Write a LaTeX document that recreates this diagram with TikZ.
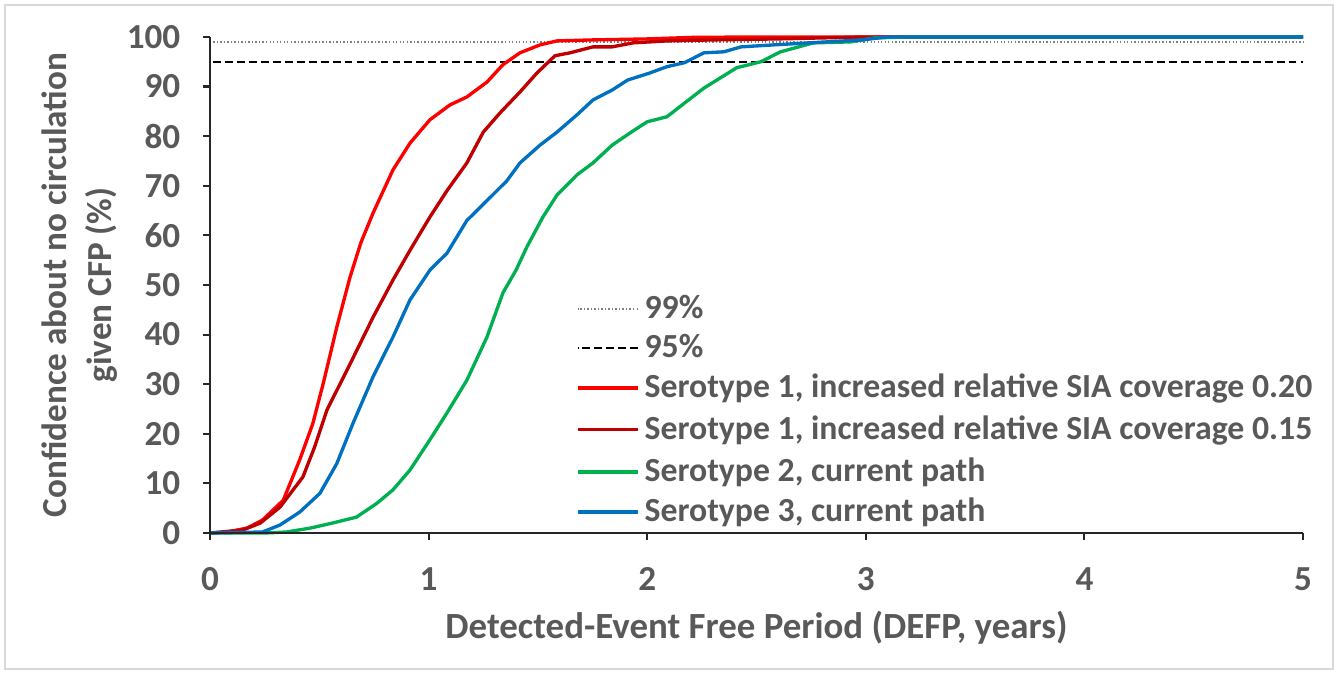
\documentclass[tikz,border=0pt]{standalone}
\usepackage{fontspec}
\setmainfont{Carlito}
\usepackage{xcolor}
\usetikzlibrary{calc, positioning}

\definecolor{txtgray}{HTML}{595959}
\definecolor{framegray}{HTML}{D9D9D9}
\definecolor{serored}{HTML}{FF0000}
\definecolor{serodark}{HTML}{C00000}
\definecolor{serogreen}{HTML}{00B050}
\definecolor{seroblue}{HTML}{0070C0}

\tikzset{
    axisline/.style={line width=0.6pt, black!85},
    refdot/.style={line width=0.5pt, gray, dash pattern=on 0.4pt off 0.6pt},
    refdash/.style={line width=0.6pt, black, dash pattern=on 2.2pt off 1.2pt},
    curve/.style={line width=0.95pt, line join=round},
    lbl/.style={font=\fontsize{10}{12.8}\selectfont\bfseries, text=txtgray, inner sep=0pt},
    legtext/.style={lbl, font=\fontsize{9.6}{12}\selectfont\bfseries, anchor=west, text height=1.6ex, text depth=0.45ex}
}

\begin{document}
\begin{tikzpicture}[x=2.186cm, y=0.0496cm]
    \useasboundingbox (-2.10cm,-1.40cm) rectangle (11.32cm,5.33cm);
    % 0. Khung ngoài
    \draw[framegray, line width=0.5pt] (-2.05cm,-1.36cm) rectangle (11.23cm,5.28cm);

    % 1. Đường tham chiếu 99% và 95%
    \draw[refdot] (0.015,99) -- (5,99);
    \draw[refdash] (0.015,95) -- (5,95);

    % 2. Các đường cong
    \draw[curve, serored] plot coordinates {(0,0) (0.08,0.2) (0.17,1) (0.24,2.6) (0.335,6.6)
        (0.41,14.7) (0.47,22) (0.52,30.5) (0.58,41.5) (0.64,51.5) (0.69,58.5) (0.746,64.5) (0.837,73.2)
        (0.915,78.6) (1.006,83.3) (1.098,86.3) (1.175,87.9) (1.267,90.9) (1.34,94.4)
        (1.418,96.8) (1.51,98.4) (1.587,99.2) (1.75,99.4) (2.0,99.6) (2.2,99.9) (2.5,100) (5,100)};
    \draw[curve, serodark] plot coordinates {(0,0) (0.15,0.6) (0.23,2) (0.32,5.2) (0.425,11.3)
        (0.48,17.5) (0.535,24.8) (0.64,34) (0.746,43.5) (0.837,51) (0.915,57) (1.006,63.7) (1.084,69)
        (1.175,74.6) (1.25,80.8) (1.327,84.7) (1.418,88.9) (1.495,92.7) (1.578,96.2)
        (1.647,96.8) (1.752,98) (1.84,98) (1.935,98.8) (2.09,99.2) (2.3,99.4) (2.6,99.6) (3.0,100) (5,100)};
    \draw[curve, serogreen] plot coordinates {(0,0) (0.25,0) (0.35,0.2) (0.46,1) (0.56,2)
        (0.67,3.2) (0.764,6) (0.837,8.7) (0.915,12.7) (1.006,18.8) (1.084,24.2) (1.175,30.8)
        (1.267,39.5) (1.34,48.4) (1.40,53) (1.45,57.7) (1.523,63.7) (1.587,68.1) (1.679,72.2)
        (1.752,74.6) (1.84,78.2) (1.92,80.6) (2.0,82.9) (2.09,83.9) (2.16,86.3) (2.26,89.7)
        (2.41,93.8) (2.52,95) (2.61,97) (2.76,98.8) (2.93,99) (3.04,99.8) (3.2,100) (5,100)};
    \draw[curve, seroblue] plot coordinates {(0,0) (0.24,0.2) (0.32,1.6) (0.41,4.2) (0.503,8)
        (0.58,14) (0.655,22.2) (0.746,31.5) (0.837,39.5) (0.915,47) (1.006,53) (1.084,56.4)
        (1.175,63) (1.267,67) (1.358,71) (1.418,74.6) (1.51,78.2) (1.587,80.8) (1.679,84.3)
        (1.752,87.3) (1.84,89.3) (1.91,91.3) (2.01,92.7) (2.09,94) (2.17,94.8) (2.26,96.8)
        (2.35,97) (2.43,98) (2.58,98.4) (2.82,99) (2.98,99.4) (3.1,100) (5,100)};

    % 3. Hệ trục và vạch chia
    \draw[axisline] (0,100) -- (0,0) -- (5,0);
    \foreach \v in {0,10,...,100} {
        \draw[axisline] (0,\v) -- ++(-0.75mm,0);
        \node[lbl, anchor=east] (ytick\v) at ([xshift=-2.9mm]0,\v) {\v};
    }
    \foreach \v in {0,...,5} {
        \draw[axisline] (\v,0) -- ++(0,-0.75mm);
        \node[lbl] (xtick\v) at ([yshift=-4.6mm]\v,0) {\v};
    }

    % 4. Tên trục
    \node[lbl, font=\fontsize{10.5}{12.8}\selectfont\bfseries] (xtitle) at ([yshift=-9.5mm]2.5,0) {Detected-Event Free Period (DEFP, years)};
    \node[lbl, align=center, rotate=90] (ytitle) at ([xshift=-13mm]0,50) {Confidence about no circulation\\given CFP (\%)};

    % 5. Chú thích
    \node[legtext] (leg99) at (1.985,45.2) {99\%};
    \node[legtext] (leg95) at (1.985,37.3) {95\%};
    \node[legtext] (legA) at (1.985,29.2) {Serotype 1, increased relative SIA coverage 0.20};
    \node[legtext] (legB) at (1.985,20.8) {Serotype 1, increased relative SIA coverage 0.15};
    \node[legtext] (legC) at (1.985,12.3) {Serotype 2, current path};
    \node[legtext] (legD) at (1.985,4.2) {Serotype 3, current path};
    \draw[refdot] ([xshift=-0.6mm]leg99.west) -- ++(-6mm,0);
    \draw[refdash] ([xshift=-0.6mm]leg95.west) -- ++(-6mm,0);
    \draw[curve, serored] ([xshift=-0.6mm]legA.west) -- ++(-6mm,0);
    \draw[curve, serodark] ([xshift=-0.6mm]legB.west) -- ++(-6mm,0);
    \draw[curve, serogreen] ([xshift=-0.6mm]legC.west) -- ++(-6mm,0);
    \draw[curve, seroblue] ([xshift=-0.6mm]legD.west) -- ++(-6mm,0);
\end{tikzpicture}
\end{document}
